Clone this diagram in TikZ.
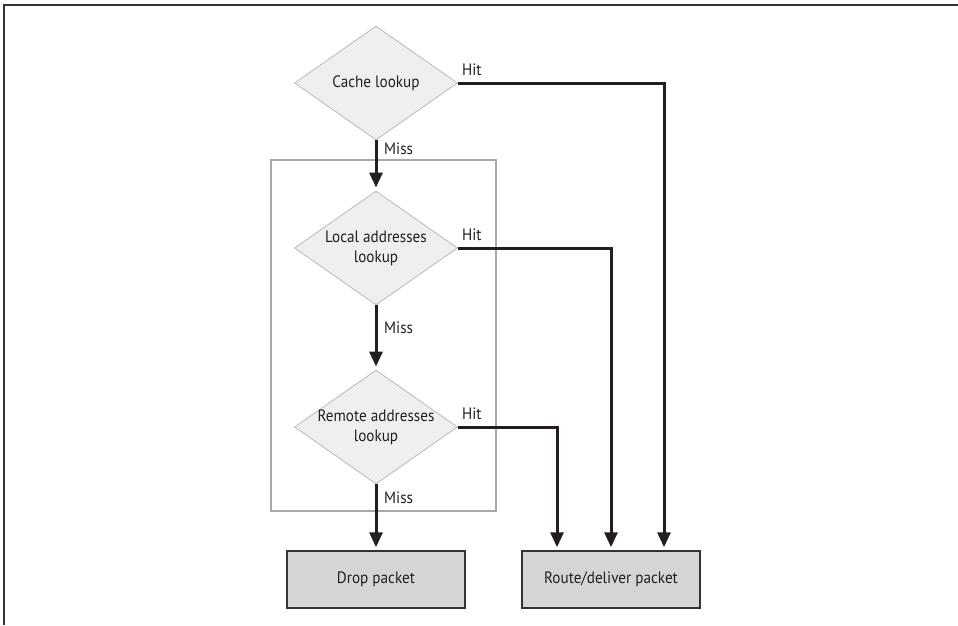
\documentclass[tikz,border=0pt]{standalone}
\usepackage{fontspec}
\setmainfont{PT Sans}[FakeStretch=0.92]
\usetikzlibrary{shapes.geometric,arrows.meta}
\definecolor{txt}{HTML}{231F20}
\definecolor{dfill}{HTML}{EFEFF0}
\definecolor{dline}{HTML}{BDBEC0}
\definecolor{bfill}{HTML}{D4D5D7}
\definecolor{gline}{HTML}{A7A9AC}
\definecolor{frame}{HTML}{333333}
\tikzset{
  decision/.style={diamond, draw=dline, line width=0.9pt, fill=dfill, inner sep=-8pt,
    minimum width=163pt, minimum height=114pt, aspect=1.43, align=center,
    font=\fontsize{16.5}{20}\selectfont, text=txt},
  outbox/.style={rectangle, draw=frame, line width=1.5pt, fill=bfill,
    minimum width=178pt, minimum height=57pt, font=\fontsize{16.5}{20}\selectfont, text=txt},
  flow/.style={draw=txt, line width=3pt, -{Triangle[length=15pt,width=13pt]}, shorten >=3pt},
  lbl/.style={anchor=base west, inner sep=0pt, font=\fontsize{16.5}{18}\selectfont, text=txt},
  grpbox/.style={rectangle, draw=gline, line width=2.5pt, minimum width=225pt, minimum height=351pt, inner sep=0pt}
}
\begin{document}
\begin{tikzpicture}[x=1pt,y=-1pt]
\useasboundingbox (0,0) rectangle (958,625);
\draw[frame, line width=2pt] (4,625) -- (4,5) -- (958,5);
\node[grpbox] (grp) at (383.5,335.5) {};
\node[decision] (cache) at (376,83) {Cache lookup};
\node[decision] (local) at (376,248) {Local addresses\\lookup};
\node[decision] (remote) at (376,427) {Remote addresses\\lookup};
\node[outbox] (drop) at (376,579.5) {Drop packet};
\node[outbox] (route) at (611,579.5) {Route/deliver packet};
\draw[flow] (cache.south) -- (local.north);
\draw[flow] (local.south) -- (remote.north);
\draw[flow] (remote.south) -- (drop.north);
\draw[flow] (cache.east) -| ([xshift=53pt]route.north);
\draw[flow] (local.east) -| (route.north);
\draw[flow] (remote.east) -| ([xshift=-54pt]route.north);
\node[lbl] (hit1) at ([xshift=4pt,yshift=8pt]cache.east) {Hit};
\node[lbl] (hit2) at ([xshift=4pt,yshift=8pt]local.east) {Hit};
\node[lbl] (hit3) at ([xshift=4pt,yshift=8pt]remote.east) {Hit};
\node[lbl] (miss1) at ([xshift=8pt,yshift=-14pt]cache.south) {Miss};
\node[lbl] (miss2) at ([xshift=8pt,yshift=-28pt]local.south) {Miss};
\node[lbl] (miss3) at ([xshift=8pt,yshift=-19pt]remote.south) {Miss};
\end{tikzpicture}
\end{document}
